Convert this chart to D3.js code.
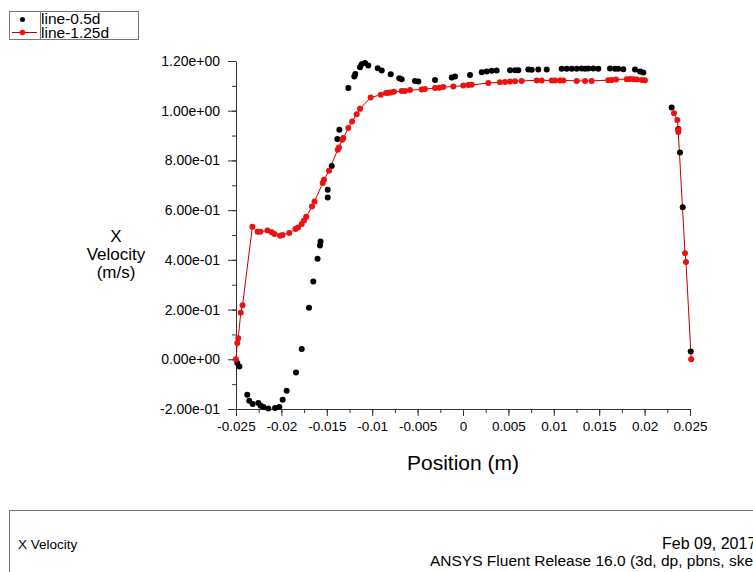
<!DOCTYPE html>
<html>
<head>
<meta charset="utf-8">
<script src="https://cdn.jsdelivr.net/npm/d3@7"></script>
<style>
  body { margin: 0; background: #fff; }
  svg { font-family: "Liberation Sans", Arial, sans-serif; }
</style>
</head>
<body>
<svg width="753" height="572"></svg>
<script>
var WIDTH = 753;
var HEIGHT = 572;

// line-0.5d : points only (position m, x velocity m/s)
var blackPos = [-0.02486, -0.02463, -0.02376, -0.02354, -0.02316, -0.02254, -0.02228, -0.02199, -0.02144, -0.0207,
  -0.02023, -0.01986, -0.01942, -0.01839, -0.01776, -0.01696, -0.01649, -0.01602, -0.01575, -0.01569,
  -0.0149, -0.0149, -0.01446, -0.01384, -0.01362, -0.01263, -0.01197, -0.01186, -0.01134, -0.01116,
  -0.01079, -0.01043, -0.00939, -0.00895, -0.00796, -0.00702, -0.00675, -0.00529, -0.00492, -0.00308,
  -0.00124, -0.00088, 0.00077, 0.00206, 0.00261, 0.00316, 0.00371, 0.00518, 0.00573, 0.00609,
  0.00719, 0.00757, 0.00829, 0.00922, 0.01087, 0.01142, 0.01197, 0.01252, 0.01307, 0.01344,
  0.0138, 0.01435, 0.0149, 0.01619, 0.01674, 0.0171, 0.01765, 0.01894, 0.01949, 0.01986,
  0.02298, 0.02371, 0.0239, 0.0242, 0.02508];
var blackVel = [-0.015, -0.029, -0.143, -0.167, -0.18, -0.176, -0.187, -0.192, -0.198, -0.196,
  -0.192, -0.163, -0.127, -0.053, 0.041, 0.207, 0.313, 0.404, 0.458, 0.474,
  0.651, 0.682, 0.778, 0.886, 0.923, 1.091, 1.138, 1.148, 1.175, 1.187,
  1.192, 1.182, 1.171, 1.162, 1.147, 1.131, 1.127, 1.12, 1.118, 1.124,
  1.134, 1.138, 1.144, 1.155, 1.158, 1.161, 1.162, 1.163, 1.163, 1.163,
  1.166, 1.165, 1.166, 1.166, 1.169, 1.169, 1.169, 1.169, 1.17, 1.169,
  1.17, 1.17, 1.169, 1.17, 1.169, 1.169, 1.167, 1.166, 1.158, 1.154,
  1.013, 0.926, 0.832, 0.612, 0.031];

// line-1.25d : points joined by a line, two pieces
var redPosA = [-0.025, -0.02486, -0.02475, -0.02448, -0.02428, -0.0232, -0.02263, -0.02232, -0.02153, -0.02107,
  -0.02076, -0.02015, -0.01988, -0.01914, -0.01845, -0.01817, -0.01776, -0.01751, -0.01726, -0.01663,
  -0.01635, -0.01545, -0.01531, -0.01476, -0.0138, -0.01366, -0.01329, -0.01318, -0.01263, -0.01222,
  -0.01171, -0.01134, -0.01017, -0.00906, -0.00848, -0.00823, -0.00796, -0.0076, -0.00675, -0.00639,
  -0.00584, -0.00455, -0.00419, -0.00308, -0.00261, -0.00217, -0.00107, 0.00003, 0.00058, 0.00096,
  0.00279, 0.00407, 0.00463, 0.00518, 0.00573, 0.00646, 0.00812, 0.00867, 0.00977, 0.01013,
  0.01068, 0.01105, 0.01252, 0.01344, 0.01417, 0.016, 0.01638, 0.01685, 0.01803, 0.01839,
  0.01876, 0.01913, 0.01968, 0.02004];
var redVelA = [0.0, 0.066, 0.085, 0.187, 0.217, 0.533, 0.513, 0.513, 0.518, 0.511,
  0.504, 0.497, 0.5, 0.508, 0.524, 0.53, 0.544, 0.558, 0.573, 0.615,
  0.635, 0.709, 0.722, 0.758, 0.843, 0.852, 0.883, 0.89, 0.93, 0.957,
  0.986, 1.008, 1.053, 1.064, 1.071, 1.072, 1.073, 1.076, 1.079, 1.079,
  1.083, 1.085, 1.087, 1.091, 1.092, 1.095, 1.097, 1.101, 1.103, 1.104,
  1.111, 1.115, 1.116, 1.118, 1.119, 1.12, 1.122, 1.122, 1.122, 1.122,
  1.122, 1.122, 1.12, 1.12, 1.12, 1.123, 1.124, 1.126, 1.127, 1.128,
  1.127, 1.126, 1.124, 1.123];
var redPosB = [0.02324, 0.0236, 0.02371, 0.02371, 0.02445, 0.02456, 0.02513];
var redVelB = [0.99, 0.963, 0.923, 0.914, 0.427, 0.391, 0.0];

var xTicks = [-0.025, -0.02, -0.015, -0.01, -0.005, 0, 0.005, 0.01, 0.015, 0.02, 0.025];
var xTickLabels = ['-0.025', '-0.02', '-0.015', '-0.01', '-0.005', '0', '0.005', '0.01', '0.015', '0.02', '0.025'];
var yTicks = [-0.2, 0, 0.2, 0.4, 0.6, 0.8, 1.0, 1.2];
var yTickLabels = ['-2.00e-01', '0.00e+00', '2.00e-01', '4.00e-01', '6.00e-01', '8.00e-01', '1.00e+00', '1.20e+00'];
var seriesNames = ['line-0.5d', 'line-1.25d'];

var svg = d3.select('svg');

var xScale = d3.scaleLinear().domain([-0.025, 0.025]).range([236, 690]);
var yScale = d3.scaleLinear().domain([-0.2, 1.2]).range([409, 61]);

var zip = function(xs, ys) {
  return xs.map(function(x, i) { return { x: x, y: ys[i] }; });
};
var black = zip(blackPos, blackVel);
var redA = zip(redPosA, redVelA);
var redB = zip(redPosB, redVelB);

// minor ticks first, then the major axes on top
var xMinor = d3.range(-0.025, 0.0251, 0.0025);
var yMinor = d3.range(-0.2, 1.201, 0.1);

svg.append('g')
  .attr('transform', 'translate(0,409)')
  .call(d3.axisBottom(xScale).tickValues(xMinor).tickSize(4).tickSizeOuter(0).tickFormat(''))
  .call(function(g) { g.select('.domain').remove(); });
svg.append('g')
  .attr('transform', 'translate(236,0)')
  .call(d3.axisLeft(yScale).tickValues(yMinor).tickSize(4).tickSizeOuter(0).tickFormat(''))
  .call(function(g) { g.select('.domain').remove(); });

var bottomAxis = d3.axisBottom(xScale)
  .tickValues(xTicks)
  .tickSize(7)
  .tickSizeOuter(0)
  .tickPadding(5)
  .tickFormat(function(d, i) { return xTickLabels[i]; });
var leftAxis = d3.axisLeft(yScale)
  .tickValues(yTicks)
  .tickSize(8)
  .tickSizeOuter(0)
  .tickPadding(8)
  .tickFormat(function(d, i) { return yTickLabels[i]; });

svg.append('g').attr('id', 'x-axis')
  .attr('transform', 'translate(0,409)')
  .call(bottomAxis);
svg.append('g').attr('id', 'y-axis')
  .attr('transform', 'translate(236,0)')
  .call(leftAxis);

svg.selectAll('#x-axis .tick text').style('font-size', '13.5px');
svg.selectAll('#y-axis .tick text').style('font-size', '14px');
svg.selectAll('.tick text')
  .style('font-family', '"Liberation Sans", Arial, sans-serif')
  .attr('fill', '#000');
svg.selectAll('.tick line, .domain').attr('stroke', '#333');

// axis titles
var yTitle = svg.append('text')
  .attr('text-anchor', 'middle')
  .style('font-size', '17px')
  .attr('fill', '#000');
['X', 'Velocity', '(m/s)'].forEach(function(s, i) {
  yTitle.append('tspan').attr('x', 116).attr('y', 242 + i * 18).text(s);
});
svg.append('text')
  .attr('x', 463)
  .attr('y', 470)
  .attr('text-anchor', 'middle')
  .style('font-size', '21px')
  .attr('fill', '#000')
  .text('Position (m)');

// red line
var line = d3.line()
  .x(function(d) { return xScale(d.x); })
  .y(function(d) { return yScale(d.y); });
var points = svg.append('g');
[redA, redB].forEach(function(seg) {
  points.append('path')
    .datum(seg)
    .attr('d', line)
    .attr('fill', 'none')
    .attr('stroke', '#c00000')
    .attr('stroke-width', 1);
});

points.selectAll('circle.black')
  .data(black)
  .enter()
  .append('circle')
  .attr('class', 'black')
  .attr('cx', function(d) { return xScale(d.x); })
  .attr('cy', function(d) { return yScale(d.y); })
  .attr('r', 3)
  .attr('fill', '#000');

points.selectAll('circle.red')
  .data(redA.concat(redB))
  .enter()
  .append('circle')
  .attr('class', 'red')
  .attr('cx', function(d) { return xScale(d.x); })
  .attr('cy', function(d) { return yScale(d.y); })
  .attr('r', 3)
  .attr('fill', '#ee1111');

// legend
var legend = svg.append('g');
legend.append('rect')
  .attr('x', 9.5).attr('y', 11.5)
  .attr('width', 129).attr('height', 28)
  .attr('fill', 'none').attr('stroke', '#777');
legend.append('line')
  .attr('x1', 40.5).attr('x2', 40.5).attr('y1', 11.5).attr('y2', 39.5)
  .attr('stroke', '#777');
legend.append('circle').attr('cx', 22.5).attr('cy', 19.5).attr('r', 2.5).attr('fill', '#000');
legend.append('line')
  .attr('x1', 12).attr('x2', 37).attr('y1', 32.5).attr('y2', 32.5)
  .attr('stroke', '#c00000');
legend.append('circle').attr('cx', 22.5).attr('cy', 32.5).attr('r', 2.8).attr('fill', '#ee1111');
seriesNames.forEach(function(s, i) {
  legend.append('text')
    .attr('x', 41)
    .attr('y', 24 + i * 13.5)
    .style('font-size', '15.5px')
    .attr('fill', '#000')
    .text(s);
});

// footer box
svg.append('rect')
  .attr('x', 9.5).attr('y', 510.5)
  .attr('width', 760).attr('height', 80)
  .attr('fill', 'none').attr('stroke', '#777');
svg.append('text')
  .attr('x', 18).attr('y', 549)
  .style('font-size', '13.5px')
  .text('X Velocity');
svg.append('text')
  .attr('x', 662).attr('y', 549)
  .style('font-size', '16px')
  .text('Feb 09, 2017');
svg.append('text')
  .attr('x', 430).attr('y', 566)
  .style('font-size', '15.5px')
  .text('ANSYS Fluent Release 16.0 (3d, dp, pbns, ske)');
</script>
</body>
</html>
